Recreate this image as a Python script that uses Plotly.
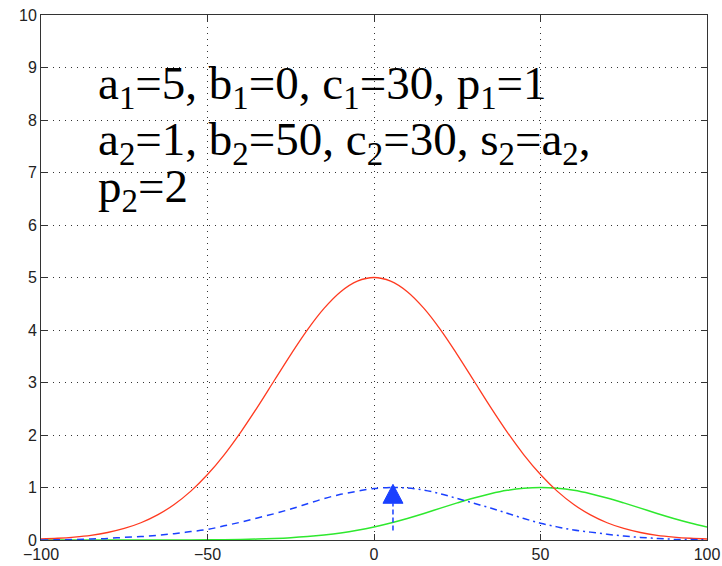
import plotly.graph_objects as go

# Sample positions shared by all three curves
x_vals = list(range(-100, 101, 5))

# Red curve values (peak 5 at x = 0)
red_vals = [0.019, 0.033, 0.056, 0.090, 0.143, 0.220, 0.329, 0.478, 0.677, 0.931,
            1.247, 1.623, 2.056, 2.532, 3.033, 3.533, 4.004, 4.412, 4.730, 4.931,
            5.000,
            4.931, 4.730, 4.412, 4.004, 3.533, 3.033, 2.532, 2.056, 1.623, 1.247,
            0.931, 0.677, 0.478, 0.329, 0.220, 0.143, 0.090, 0.056, 0.033, 0.019]

# Green curve values (peak 1 at x = 50)
green_vals = [0.0, 0.0, 0.0, 0.0, 0.0001, 0.0002, 0.0003, 0.0007, 0.0012, 0.0022,
              0.0039, 0.0067, 0.011, 0.018, 0.029, 0.044, 0.066, 0.096, 0.135, 0.186,
              0.249, 0.325, 0.411, 0.506, 0.607, 0.707, 0.801, 0.882, 0.946, 0.986,
              1.000, 0.986, 0.946, 0.882, 0.801, 0.707, 0.607, 0.506, 0.411, 0.325,
              0.249]

# Blue dashed curve values (peak about 1 near x = 5)
blue_vals = [0.0, 0.005, 0.01, 0.02, 0.03, 0.05, 0.065, 0.09, 0.12, 0.16,
             0.20, 0.27, 0.34, 0.42, 0.50, 0.59, 0.69, 0.79, 0.87, 0.93,
             0.98, 1.00, 0.99, 0.95, 0.88, 0.79, 0.70, 0.61, 0.51, 0.41,
             0.32, 0.25, 0.19, 0.15, 0.11, 0.075, 0.05, 0.03, 0.015, 0.008,
             0.003]
blue_split = 5  # left part dashed, right part dash-dot

# Arrow marking the blue peak
arrow_x = 5.7
arrow_tail = 0.18
arrow_tip = 1.06
arrow_head_len = 0.36
arrow_head_halfwidth = 3.0

x_ticks = [-100, -50, 0, 50, 100]
y_ticks = list(range(0, 11))

label_lines = [
    "a<sub>1</sub>=5, b<sub>1</sub>=0, c<sub>1</sub>=30, p<sub>1</sub>=1",
    "a<sub>2</sub>=1, b<sub>2</sub>=50, c<sub>2</sub>=30, s<sub>2</sub>=a<sub>2</sub>,",
    "p<sub>2</sub>=2",
]
label_y = [8.64, 7.57, 6.68]

RED = "#ff3a20"
GREEN = "#2ee82e"
BLUE = "#1a40ff"

fig = go.Figure()

left_x = [x for x in x_vals if x <= blue_split]
left_y = [y for x, y in zip(x_vals, blue_vals) if x <= blue_split]
right_x = [x for x in x_vals if x >= blue_split]
right_y = [y for x, y in zip(x_vals, blue_vals) if x >= blue_split]

fig.add_trace(go.Scatter(x=x_vals, y=green_vals, mode="lines",
                         line=dict(color=GREEN, width=1.5, shape="spline")))
fig.add_trace(go.Scatter(x=x_vals, y=red_vals, mode="lines",
                         line=dict(color=RED, width=1.3, shape="spline")))
fig.add_trace(go.Scatter(x=left_x, y=left_y, mode="lines",
                         line=dict(color=BLUE, width=1.5, dash="7px,5px", shape="spline")))
fig.add_trace(go.Scatter(x=right_x, y=right_y, mode="lines",
                         line=dict(color=BLUE, width=1.5, dash="7px,4px,2px,4px", shape="spline")))

# Arrow shaft
head_base = arrow_tip - arrow_head_len
fig.add_trace(go.Scatter(x=[arrow_x, arrow_x], y=[arrow_tail, head_base], mode="lines",
                         line=dict(color=BLUE, width=1.5, dash="5px,3px")))
# Arrow head
fig.add_trace(go.Scatter(
    x=[arrow_x - arrow_head_halfwidth, arrow_x + arrow_head_halfwidth, arrow_x, arrow_x - arrow_head_halfwidth],
    y=[head_base, head_base, arrow_tip, head_base],
    mode="lines", fill="toself", fillcolor=BLUE, line=dict(color=BLUE, width=1)))

for line, yv in zip(label_lines, label_y):
    fig.add_annotation(x=0.083, y=yv, xref="paper", yref="y",
                       text=line, showarrow=False, xanchor="left", yanchor="middle",
                       font=dict(family="Liberation Serif, Times New Roman, serif",
                                 size=47, color="black"))

axis_common = dict(
    showgrid=True, gridcolor="#333333", griddash="1px,5px", gridwidth=1,
    showline=True, linecolor="#333333", linewidth=1, mirror="ticks",
    ticks="inside", ticklen=6, tickcolor="#333333",
    tickfont=dict(family="Liberation Sans, Arial, sans-serif", size=16, color="#222222"),
    zeroline=False, automargin=False,
)

fig.update_xaxes(range=[-100, 100], tickvals=x_ticks, **axis_common)
fig.update_yaxes(range=[0, 10], tickvals=y_ticks, **axis_common)

fig.update_layout(
    width=722, height=566,
    margin=dict(l=41, r=15, t=15, b=26),
    paper_bgcolor="white", plot_bgcolor="white",
    showlegend=False,
)

fig.write_html("out.html")
